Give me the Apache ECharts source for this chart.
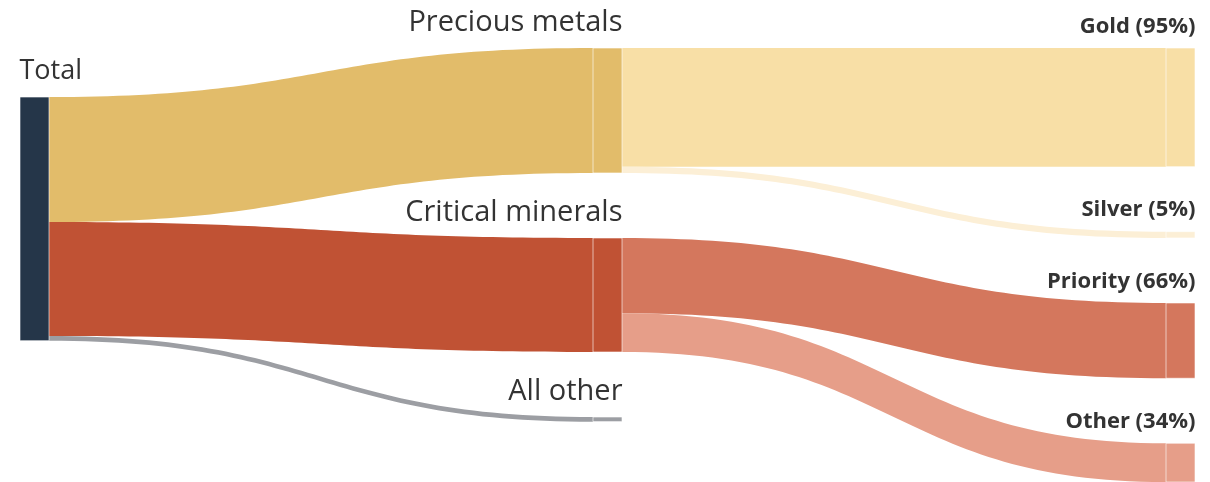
<!DOCTYPE html>
<html>
<head>
<meta charset="utf-8">
<script src="https://cdn.jsdelivr.net/npm/echarts@6/dist/echarts.min.js"></script>
<style>
  html, body { margin: 0; padding: 0; background: #fff; }
  #chart { width: 1210px; height: 482px; }
</style>
</head>
<body>
<div id="chart"></div>
<script>
// data (shares of total, in %)
const nodeNames = ['Total', 'Precious metals', 'Critical minerals', 'All other',
  'Gold (95%)', 'Silver (5%)', 'Priority (66%)', 'Other (34%)'];
const linkSources = ['Total', 'Total', 'Total',
  'Precious metals', 'Precious metals', 'Critical minerals', 'Critical minerals'];
const linkTargets = ['Precious metals', 'Critical minerals', 'All other',
  'Gold (95%)', 'Silver (5%)', 'Priority (66%)', 'Other (34%)'];
const linkValues = [51.3, 46.8, 1.9, 48.7, 2.6, 30.9, 15.9];

// palette
const nodeColors = {
  'Total': '#253649',
  'Precious metals': '#E2BC6A',
  'Critical minerals': '#C05234',
  'All other': '#9C9EA3',
  'Gold (95%)': '#F8DFA6',
  'Silver (5%)': '#FCEFD6',
  'Priority (66%)': '#D4775D',
  'Other (34%)': '#E69E89'
};

const chart = echarts.init(document.getElementById('chart'));

const nodes = nodeNames.map(name => {
  const item = { name: name, itemStyle: { color: nodeColors[name] } };
  // keep the root node a bit lower, like the original layout
  if (name === 'Total') item.localY = 0.113;
  return item;
});

const links = linkValues.map((v, i) => ({
  source: linkSources[i],
  target: linkTargets[i],
  value: v,
  lineStyle: { color: nodeColors[linkTargets[i]], opacity: 1 }
}));

chart.setOption({
  animation: false,
  series: [{
    type: 'sankey',
    left: 20,
    right: 15,
    top: 48,
    bottom: 0,
    nodeWidth: 29,
    nodeGap: 65,
    nodeAlign: 'left',
    layoutIterations: 0,
    draggable: false,
    emphasis: { disabled: true },
    itemStyle: { borderColor: 'rgba(255,255,255,0.6)', borderWidth: 1 },
    lineStyle: { curveness: 0.5, opacity: 1 },
    label: { show: true, fontFamily: 'Open Sans', color: '#333' },
    levels: [
      { depth: 0, label: { position: [0, -12], align: 'left', verticalAlign: 'bottom', fontSize: 27, lineHeight: 27 } },
      { depth: 1, label: { position: ['100%', -10], align: 'right', verticalAlign: 'bottom', fontSize: 29, lineHeight: 29 } },
      { depth: 2, label: { position: ['100%', -10], align: 'right', verticalAlign: 'bottom', fontSize: 22, lineHeight: 22, fontWeight: 'bold' } }
    ],
    data: nodes,
    links: links
  }]
});
</script>
</body>
</html>
